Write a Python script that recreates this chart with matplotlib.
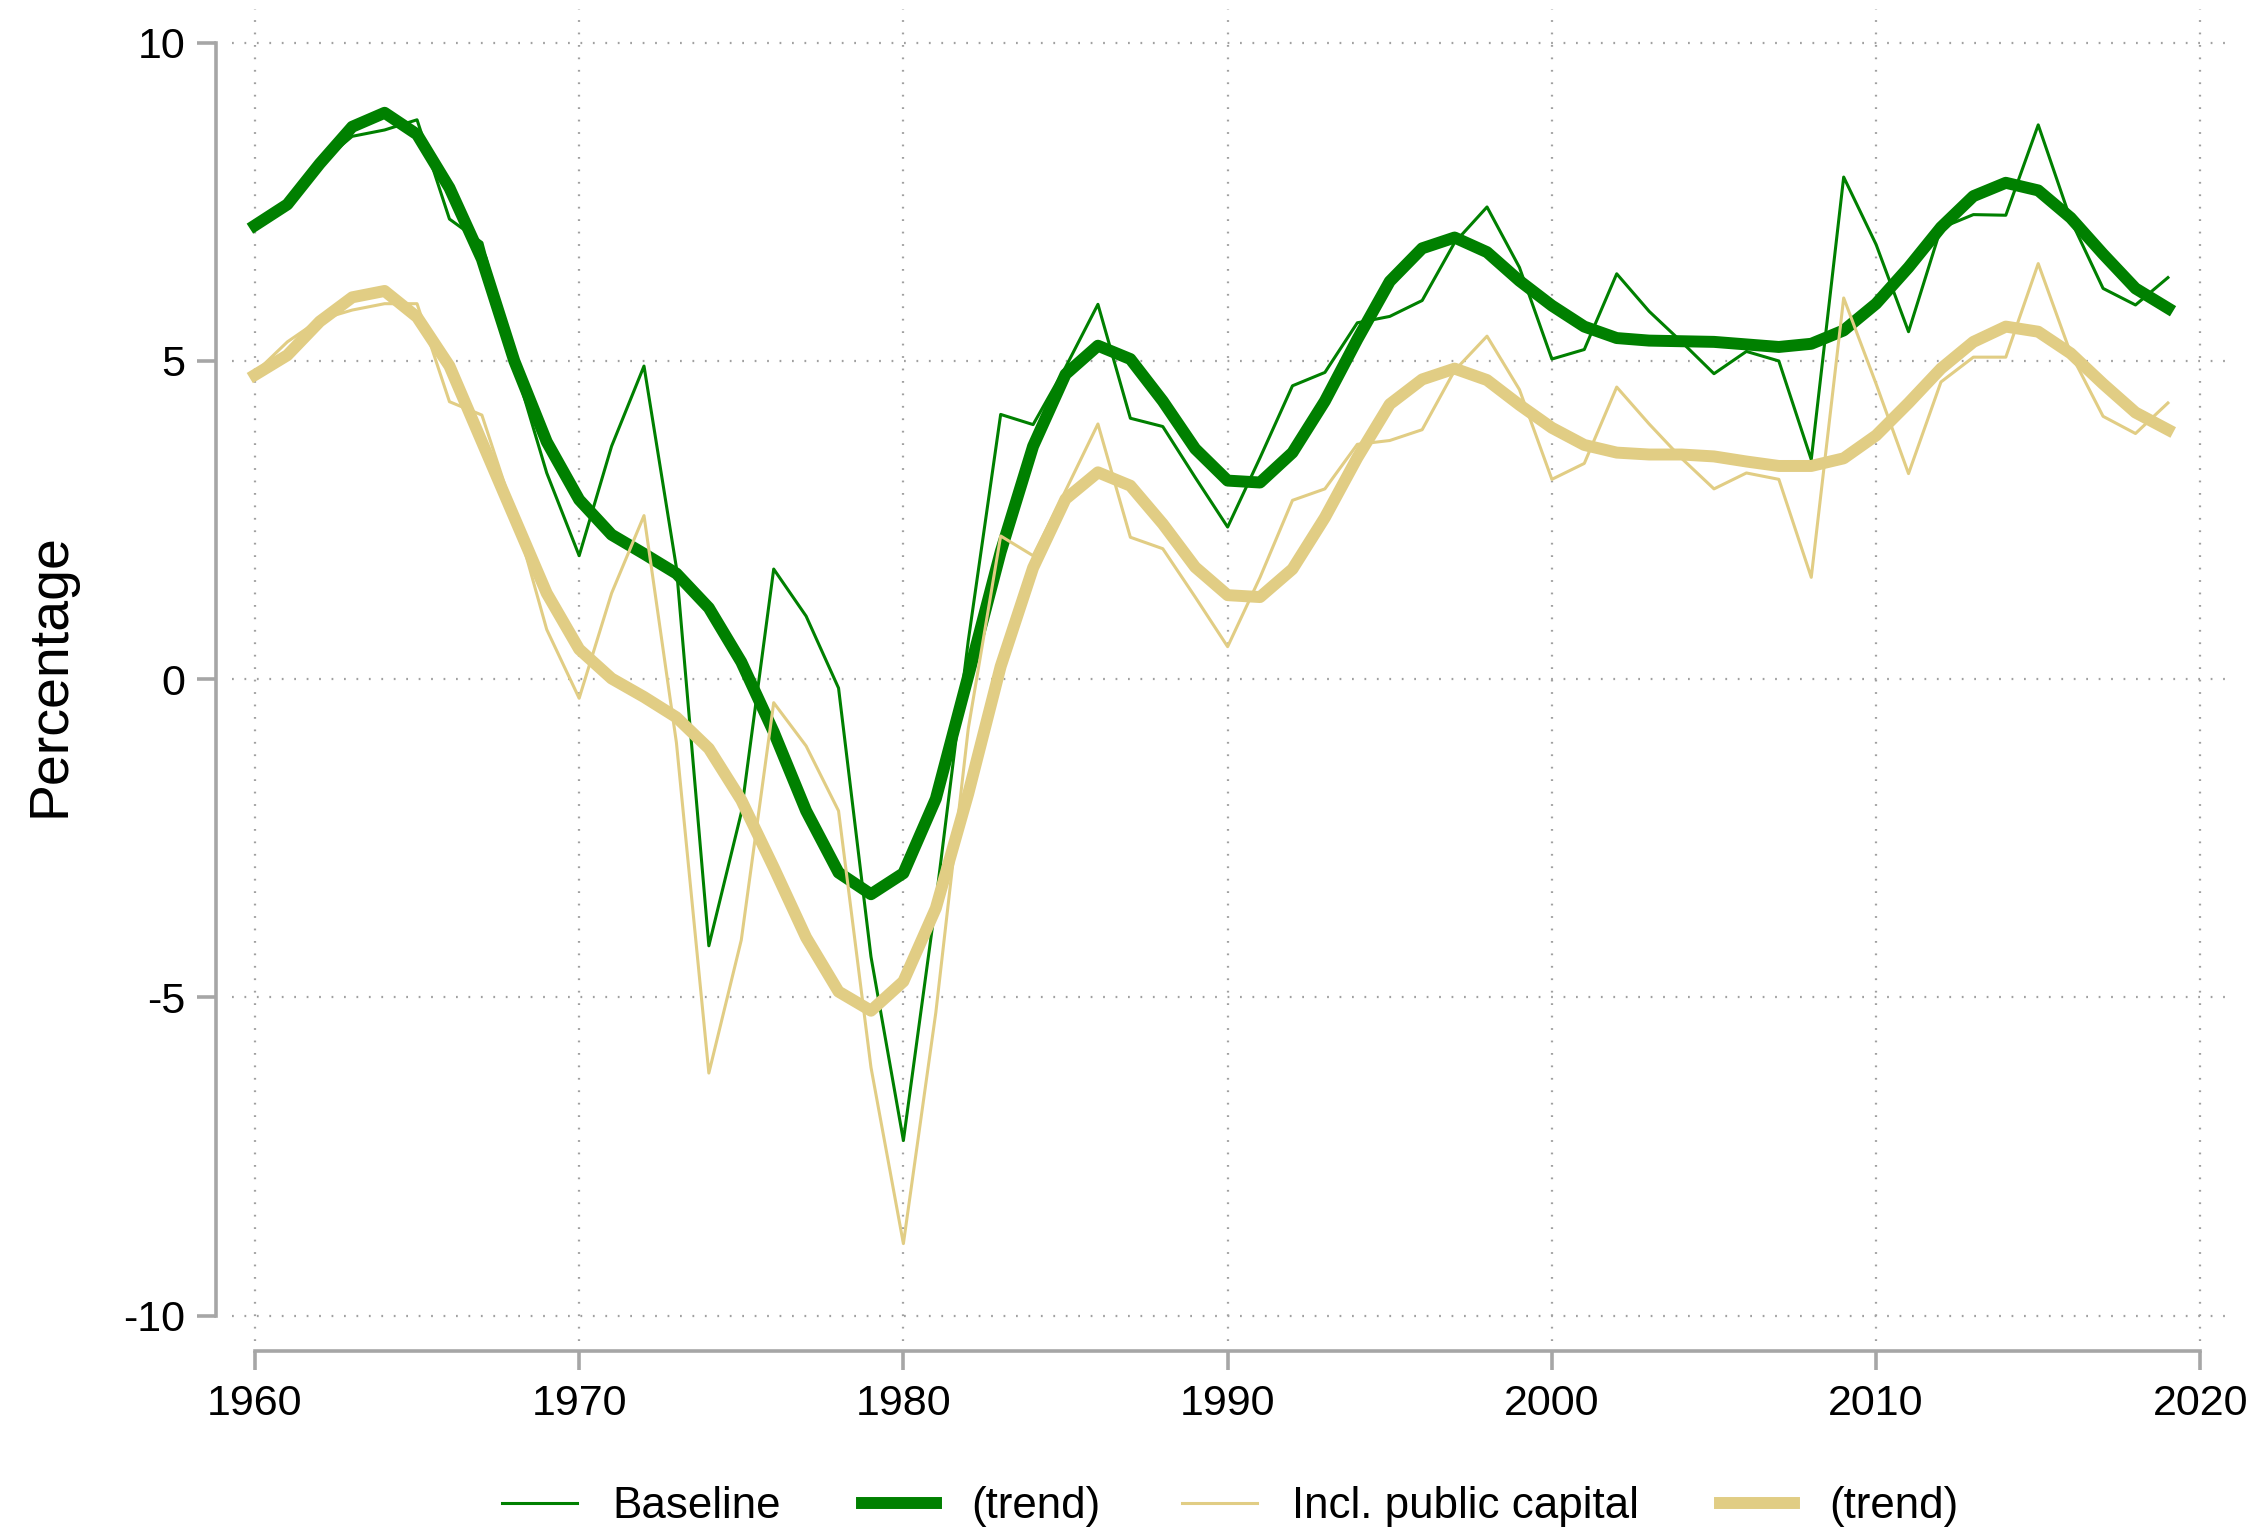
import numpy as np
import matplotlib
matplotlib.use("Agg")
import matplotlib.pyplot as plt

plt.rcParams["font.family"] = ["Liberation Sans", "DejaVu Sans"]
plt.rcParams["axes.unicode_minus"] = False

# data
years = np.arange(1960, 2020)

baseline = [7.15, 7.5, 8.1, 8.53, 8.63, 8.79, 7.23, 6.86, 4.95, 3.24,
            1.94, 3.66, 4.92, 1.75, -4.19, -2.1, 1.73, 0.99, -0.14, -4.36,
            -7.25, -3.5, 0.6, 4.16, 4.0, 4.9, 5.89, 4.1, 3.97, 3.17,
            2.39, 3.48, 4.61, 4.82, 5.6, 5.7, 5.95, 6.86, 7.42, 6.47,
            5.03, 5.18, 6.37, 5.78, 5.3, 4.8, 5.15, 5.0, 3.45, 7.89,
            6.83, 5.46, 7.09, 7.3, 7.29, 8.71, 7.22, 6.14, 5.88, 6.31]

baseline_trend = [7.13, 7.46, 8.1, 8.68, 8.9, 8.56, 7.72, 6.6, 5.0, 3.73,
                  2.82, 2.27, 1.97, 1.66, 1.12, 0.27, -0.83, -2.07, -3.04, -3.38,
                  -3.05, -1.88, 0.05, 2.0, 3.66, 4.79, 5.24, 5.03, 4.37, 3.62,
                  3.12, 3.09, 3.56, 4.37, 5.34, 6.25, 6.77, 6.94, 6.71, 6.26,
                  5.87, 5.54, 5.36, 5.32, 5.31, 5.3, 5.26, 5.22, 5.27, 5.48,
                  5.9, 6.47, 7.1, 7.59, 7.8, 7.68, 7.25, 6.68, 6.14, 5.83]

public = [4.81, 5.3, 5.65, 5.8, 5.9, 5.9, 4.36, 4.15, 2.6, 0.78,
          -0.3, 1.35, 2.57, -1.0, -6.19, -4.1, -0.37, -1.05, -2.07, -6.1,
          -8.87, -5.24, -0.78, 2.25, 1.94, 2.96, 4.01, 2.23, 2.05, 1.29,
          0.51, 1.6, 2.81, 2.99, 3.69, 3.75, 3.92, 4.85, 5.39, 4.55,
          3.14, 3.39, 4.59, 4.01, 3.47, 2.99, 3.24, 3.14, 1.6, 5.99,
          4.64, 3.23, 4.67, 5.06, 5.06, 6.53, 5.12, 4.13, 3.86, 4.34]

public_trend = [4.78, 5.09, 5.62, 6.0, 6.1, 5.69, 4.92, 3.73, 2.54, 1.35,
                0.47, 0.01, -0.28, -0.6, -1.09, -1.9, -2.96, -4.06, -4.91, -5.21,
                -4.75, -3.6, -1.8, 0.2, 1.75, 2.83, 3.25, 3.04, 2.44, 1.76,
                1.32, 1.29, 1.73, 2.54, 3.48, 4.32, 4.71, 4.88, 4.7, 4.31,
                3.95, 3.68, 3.56, 3.53, 3.53, 3.5, 3.42, 3.35, 3.35, 3.47,
                3.83, 4.34, 4.88, 5.3, 5.54, 5.46, 5.12, 4.64, 4.19, 3.92]

xticks = [1960, 1970, 1980, 1990, 2000, 2010, 2020]
yticks = [-10, -5, 0, 5, 10]

green = "#008000"
sand = "#e1cd84"
gray = "#a6a6a6"

fig = plt.figure(figsize=(2258 / 200, 1535 / 200), dpi=200)
ax = fig.add_axes([0.1027, 0.1264, 0.8867, 0.8677])

ax.plot(years, baseline, color=green, lw=1.1, label="Baseline")
ax.plot(years, baseline_trend, color=green, lw=4.3, label="(trend)")
ax.plot(years, public, color=sand, lw=1.1, label="Incl. public capital")
ax.plot(years, public_trend, color=sand, lw=4.3, label="(trend)")

ax.set_xlim(1959.29, 2021.04)
ax.set_ylim(-10.4, 10.53)
ax.set_xticks(xticks)
ax.set_yticks(yticks)

ax.grid(True, color="#a0a0a0", lw=0.8, linestyle=(0, (0.8, 4.8)))
ax.set_axisbelow(True)

for s in ["top", "right"]:
    ax.spines[s].set_visible(False)
ax.spines["left"].set_position(("outward", 5.8))
ax.spines["bottom"].set_position(("outward", 3.6))
ax.spines["left"].set_bounds(-10, 10)
ax.spines["bottom"].set_bounds(1960, 2020)
for s in ["left", "bottom"]:
    ax.spines[s].set_color(gray)
    ax.spines[s].set_linewidth(1.3)

ax.tick_params(axis="both", colors=gray, length=7, width=1.3, labelcolor="black", labelsize=15.5)
ax.tick_params(axis="y", pad=4)
ax.tick_params(axis="x", pad=5)

ax.set_ylabel("Percentage", fontsize=20, labelpad=17)

fig.legend(loc="center", bbox_to_anchor=(0.545, 0.0185), ncol=4, frameon=False,
           fontsize=15.8, handlelength=1.7, handletextpad=0.8, columnspacing=1.85)

fig.set_facecolor("white")
fig.savefig("out.png", dpi=200, facecolor="white")
